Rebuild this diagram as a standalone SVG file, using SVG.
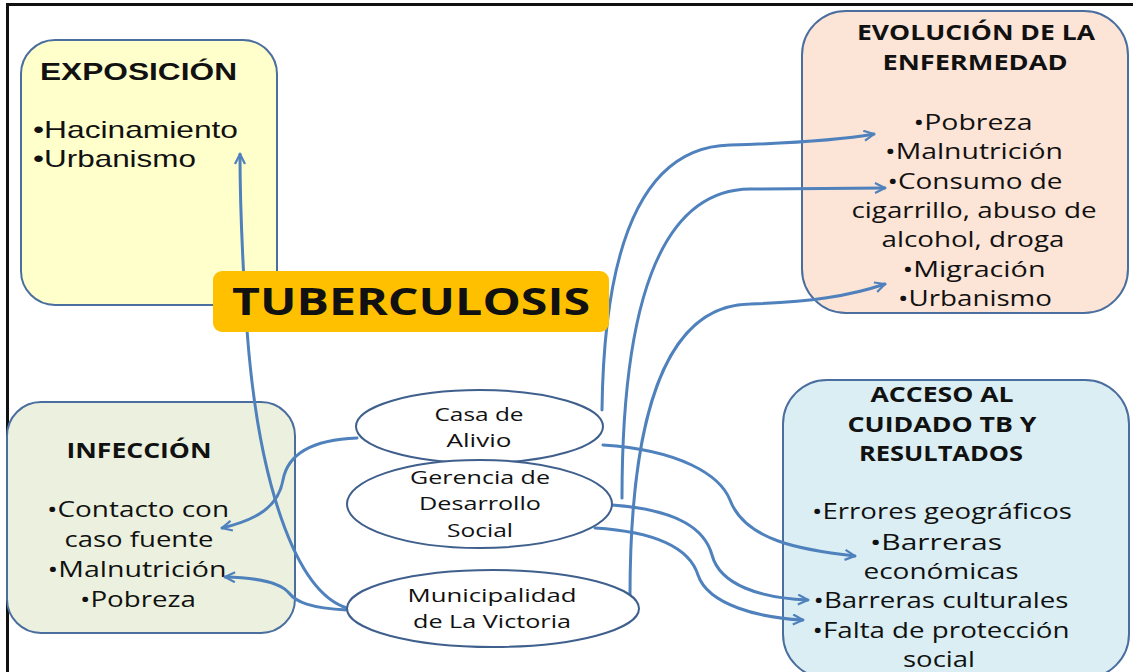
<svg xmlns="http://www.w3.org/2000/svg" width="1133" height="672" viewBox="0 0 1133 672">
<defs>
<style>
.box{stroke:#4A6E9E;stroke-width:2}
.ell{fill:#fff;stroke:#3F5F8C;stroke-width:2}
.conn{fill:none;stroke:#4F81BD;stroke-width:3;stroke-linecap:round}
.t{font-family:"Open Sans","Noto Sans","Liberation Sans",sans-serif;fill:#111;text-anchor:middle}
.h{font-weight:bold}
.a{font-family:"Liberation Sans",Arial,sans-serif;fill:#111}
</style>
<marker id="arr" viewBox="0 0 12 12" refX="11" refY="6" markerWidth="12" markerHeight="12" markerUnits="userSpaceOnUse" orient="auto">
<path d="M1,1 L11,6 L1,11" fill="none" stroke="#4F81BD" stroke-width="2.2" stroke-linejoin="miter"/>
</marker>
</defs>
<rect width="1133" height="672" fill="#fff"/>
<path d="M7.5,672 V4.5 H1133" fill="none" stroke="#111" stroke-width="3"/>

<g id="exposicion">
<rect class="box" x="21" y="40" width="256" height="265" rx="34" fill="#FFFFCC"/>
<text class="a h" x="40" y="80" font-size="24" textLength="197" lengthAdjust="spacingAndGlyphs">EXPOSICIÓN</text>
<text class="a" x="33" y="138" font-size="24" textLength="205" lengthAdjust="spacingAndGlyphs">•Hacinamiento</text>
<text class="a" x="33" y="167" font-size="24" textLength="163" lengthAdjust="spacingAndGlyphs">•Urbanismo</text>
</g>

<g id="evolucion">
<rect class="box" x="802" y="11" width="326" height="302" rx="44" fill="#FCE4D6"/>
<text class="t h" x="976" y="40" font-size="21" textLength="238" lengthAdjust="spacingAndGlyphs">EVOLUCIÓN DE LA</text>
<text class="t h" x="975" y="70" font-size="21" textLength="185" lengthAdjust="spacingAndGlyphs">ENFERMEDAD</text>
<text class="t" x="973" y="130" font-size="21" textLength="119" lengthAdjust="spacingAndGlyphs">•Pobreza</text>
<text class="t" x="974" y="159" font-size="21" textLength="178" lengthAdjust="spacingAndGlyphs">•Malnutrición</text>
<text class="t" x="975" y="189" font-size="21" textLength="175" lengthAdjust="spacingAndGlyphs">•Consumo de</text>
<text class="t" x="974" y="218" font-size="21" textLength="245" lengthAdjust="spacingAndGlyphs">cigarrillo, abuso de</text>
<text class="t" x="973" y="247" font-size="21" textLength="183" lengthAdjust="spacingAndGlyphs">alcohol, droga</text>
<text class="t" x="974" y="277" font-size="21" textLength="143" lengthAdjust="spacingAndGlyphs">•Migración</text>
<text class="t" x="975" y="306" font-size="21" textLength="154" lengthAdjust="spacingAndGlyphs">•Urbanismo</text>
</g>

<g id="infeccion">
<rect class="box" x="7" y="402" width="288" height="231" rx="34" fill="#EBF1DE"/>
<text class="t h" x="139" y="458" font-size="21" textLength="145" lengthAdjust="spacingAndGlyphs">INFECCIÓN</text>
<text class="t" x="138" y="517" font-size="21" textLength="182" lengthAdjust="spacingAndGlyphs">•Contacto con</text>
<text class="t" x="139" y="547" font-size="21" textLength="149" lengthAdjust="spacingAndGlyphs">caso fuente</text>
<text class="t" x="137" y="577" font-size="21" textLength="179" lengthAdjust="spacingAndGlyphs">•Malnutrición</text>
<text class="t" x="138" y="607" font-size="21" textLength="116" lengthAdjust="spacingAndGlyphs">•Pobreza</text>
</g>

<g id="acceso">
<rect class="box" x="783" y="380" width="346" height="298" rx="44" fill="#DAEEF3"/>
<text class="t h" x="942" y="402" font-size="21" textLength="143" lengthAdjust="spacingAndGlyphs">ACCESO AL</text>
<text class="t h" x="942" y="432" font-size="21" textLength="189" lengthAdjust="spacingAndGlyphs">CUIDADO TB Y</text>
<text class="t h" x="941" y="461" font-size="21" textLength="164" lengthAdjust="spacingAndGlyphs">RESULTADOS</text>
<text class="t" x="942" y="519" font-size="21" textLength="260" lengthAdjust="spacingAndGlyphs">•Errores geográficos</text>
<text class="t" x="936" y="550" font-size="21" textLength="132" lengthAdjust="spacingAndGlyphs">•Barreras</text>
<text class="t" x="941" y="579" font-size="21" textLength="155" lengthAdjust="spacingAndGlyphs">económicas</text>
<text class="t" x="941" y="608" font-size="21" textLength="255" lengthAdjust="spacingAndGlyphs">•Barreras culturales</text>
<text class="t" x="941" y="638" font-size="21" textLength="257" lengthAdjust="spacingAndGlyphs">•Falta de protección</text>
<text class="t" x="939" y="667" font-size="21" textLength="72" lengthAdjust="spacingAndGlyphs">social</text>
</g>

<g id="connectors">
<path class="conn" marker-end="url(#arr)" d="M347,608 C 295,592 258,480 247,330 C 243,270 240,200 240,154"/>
<path class="conn" marker-end="url(#arr)" d="M357,438 C 305,440 287,458 283,480 C 278,508 255,520 222,528"/>
<path class="conn" marker-end="url(#arr)" d="M347,610 C 310,608 296,602 289,593 C 281,583 262,578 225,577"/>
<path class="conn" marker-end="url(#arr)" d="M602,410 C 604,250 640,147 730,145 C 800,143 840,140 874,134"/>
<path class="conn" marker-end="url(#arr)" d="M622,498 C 622,330 650,190 750,189 L 885,188"/>
<path class="conn" marker-end="url(#arr)" d="M630,596 C 630,430 660,305 750,304 C 810,302 850,296 885,284"/>
<path class="conn" marker-end="url(#arr)" d="M603,445 C 680,450 720,475 730,500 C 745,540 800,550 855,556"/>
<path class="conn" marker-end="url(#arr)" d="M612,505 C 680,510 705,530 712,555 C 720,585 760,598 808,600"/>
<path class="conn" marker-end="url(#arr)" d="M595,528 C 660,532 690,550 698,575 C 708,605 760,618 803,620"/>
</g>

<g id="tuberculosis">
<rect x="213" y="271" width="396" height="61" rx="9" fill="#FFC000"/>
<text class="t h" x="411" y="315" font-size="38" textLength="358" lengthAdjust="spacingAndGlyphs">TUBERCULOSIS</text>
</g>

<g id="casa">
<ellipse class="ell" cx="479.5" cy="426.5" rx="123.5" ry="36.5"/>
<text class="t" x="479" y="421" font-size="19" textLength="89" lengthAdjust="spacingAndGlyphs">Casa de</text>
<text class="t" x="479" y="447" font-size="19" textLength="65" lengthAdjust="spacingAndGlyphs">Alivio</text>
</g>

<g id="gerencia">
<ellipse class="ell" cx="479.5" cy="504" rx="132.5" ry="44"/>
<text class="t" x="480" y="484" font-size="19" textLength="140" lengthAdjust="spacingAndGlyphs">Gerencia de</text>
<text class="t" x="480" y="510" font-size="19" textLength="122" lengthAdjust="spacingAndGlyphs">Desarrollo</text>
<text class="t" x="480" y="537" font-size="19" textLength="66" lengthAdjust="spacingAndGlyphs">Social</text>
</g>

<g id="municipalidad">
<ellipse class="ell" cx="493" cy="608.5" rx="146" ry="38.5"/>
<text class="t" x="492" y="602" font-size="19" textLength="169" lengthAdjust="spacingAndGlyphs">Municipalidad</text>
<text class="t" x="492" y="628" font-size="19" textLength="158" lengthAdjust="spacingAndGlyphs">de La Victoria</text>
</g>
</svg>
